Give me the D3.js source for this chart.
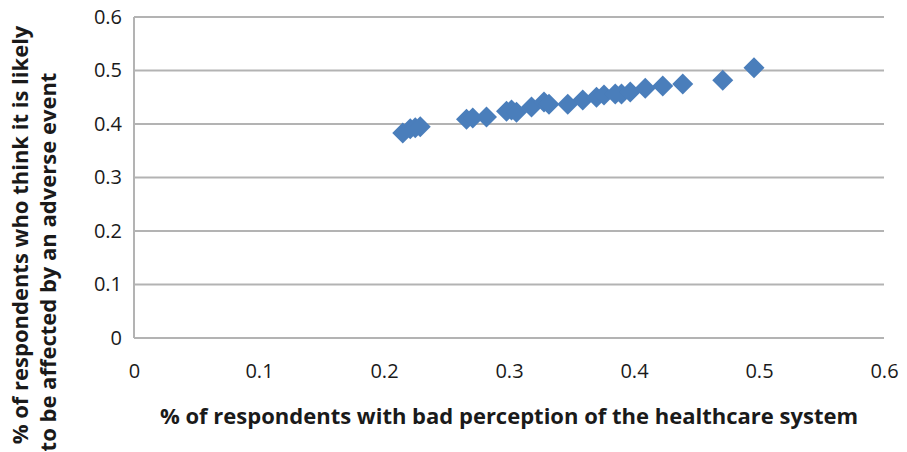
<!DOCTYPE html>
<html>
<head>
<meta charset="utf-8">
<script src="https://cdn.jsdelivr.net/npm/d3@7"></script>
<style>
  html, body { margin: 0; padding: 0; background: #fff; }
  svg { display: block; }
  text { font-family: "Open Sans", "Liberation Sans", sans-serif; fill: #1a1a1a; }
</style>
</head>
<body>
<svg id="chart" width="907" height="452"></svg>
<script>
// Share of respondents with a bad perception of the healthcare system
const badPerception = [0.215, 0.221, 0.225, 0.229, 0.266, 0.271, 0.282, 0.298, 0.302, 0.306,
  0.318, 0.328, 0.332, 0.347, 0.359, 0.370, 0.376, 0.385, 0.390, 0.397,
  0.409, 0.423, 0.439, 0.471, 0.496];
// Share who think it is likely to be affected by an adverse event
const likelyAffected = [0.383, 0.391, 0.393, 0.395, 0.409, 0.411, 0.413, 0.424, 0.426, 0.422,
  0.432, 0.441, 0.437, 0.437, 0.445, 0.450, 0.454, 0.456, 0.456, 0.460,
  0.467, 0.471, 0.475, 0.482, 0.505];
const xTicks = [0, 0.1, 0.2, 0.3, 0.4, 0.5, 0.6];
const yTicks = [0, 0.1, 0.2, 0.3, 0.4, 0.5, 0.6];
const xTitle = "% of respondents with bad perception of the healthcare system";
const yTitleLines = ["% of respondents who think it is likely", "to be affected by an adverse event"];

const svg = d3.select("#chart");
const x = d3.scaleLinear().domain([0, 0.6]).range([134, 884]);
const y = d3.scaleLinear().domain([0, 0.6]).range([338, 17]);
const fmt = d => d === 0 ? "0" : d3.format(".1f")(d);

// horizontal gridlines
svg.append("g").selectAll("line").data(yTicks).join("line")
  .attr("x1", x(0)).attr("x2", x(0.6))
  .attr("y1", d => y(d)).attr("y2", d => y(d))
  .attr("stroke", "#b3b3b3").attr("stroke-width", 2);

// vertical axis line
svg.append("line")
  .attr("x1", x(0)).attr("x2", x(0))
  .attr("y1", y(0)).attr("y2", y(0.6))
  .attr("stroke", "#b3b3b3").attr("stroke-width", 2);

// y axis labels
const yAxis = d3.axisLeft(y).tickValues(yTicks).tickFormat(fmt).tickSize(0).tickPadding(12);
const gy = svg.append("g").attr("transform", `translate(${x(0)},0)`).call(yAxis);
gy.select(".domain").remove();
gy.selectAll("text").style("font-size", "20px").attr("fill", "#1a1a1a");

// x axis labels
const xAxis = d3.axisBottom(x).tickValues(xTicks).tickFormat(fmt).tickSize(0).tickPadding(26);
const gx = svg.append("g").attr("transform", `translate(0,${y(0)})`).call(xAxis);
gx.select(".domain").remove();
gx.selectAll("text").style("font-size", "20px").attr("fill", "#1a1a1a");

// diamond markers
const r = 10.5;
const diamond = `M0,${-r}L${r},0L0,${r}L${-r},0Z`;
svg.append("g").selectAll("path").data(badPerception.map((v, i) => [v, likelyAffected[i]]))
  .join("path")
  .attr("d", diamond)
  .attr("transform", d => `translate(${x(d[0])},${y(d[1])})`)
  .attr("fill", "#4a7ebb");

// axis titles
svg.append("text")
  .attr("x", 509).attr("y", 424)
  .attr("text-anchor", "middle")
  .style("font-size", "22px").style("font-weight", "bold")
  .text(xTitle);

const yTitlePos = [[28, 235], [56, 262]];
svg.append("g").selectAll("text").data(yTitleLines).join("text")
  .attr("transform", (d, i) => `translate(${yTitlePos[i][0]},${yTitlePos[i][1]}) rotate(-90)`)
  .attr("text-anchor", "middle")
  .style("font-size", "22px").style("font-weight", "bold")
  .text(d => d);
</script>
</body>
</html>
